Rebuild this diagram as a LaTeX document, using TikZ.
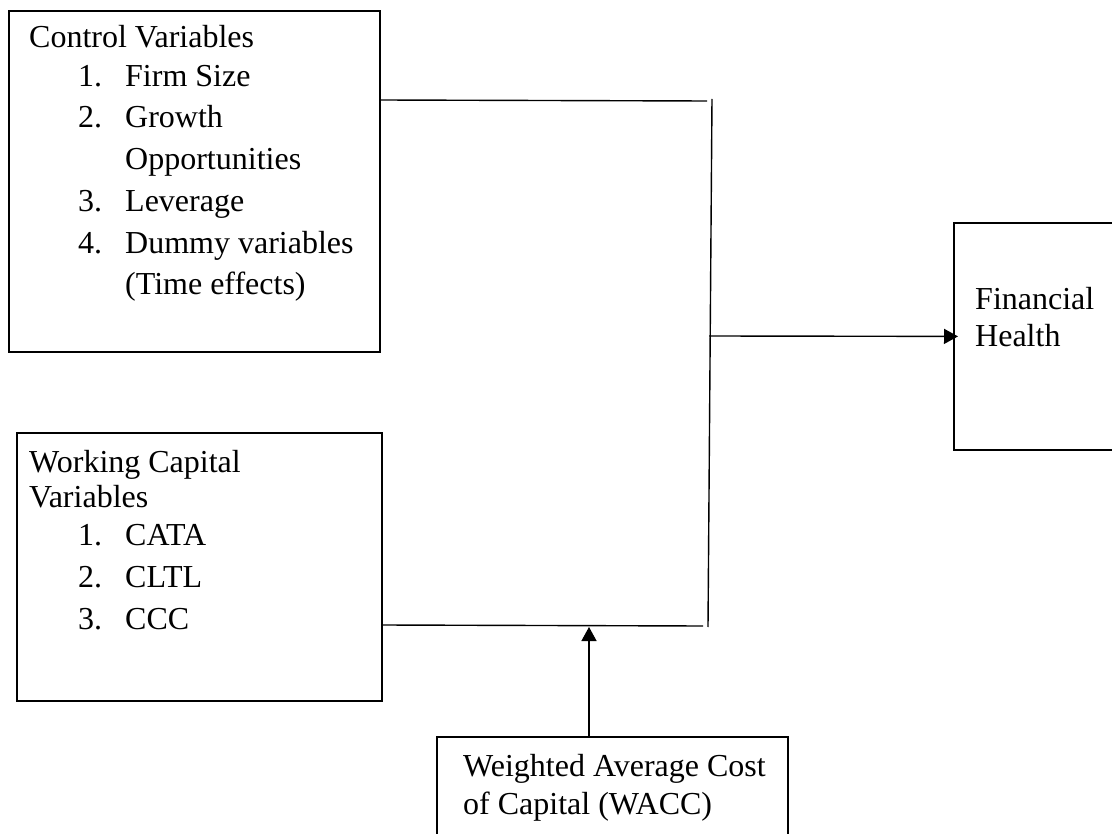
\documentclass[tikz,border=0pt]{standalone}
\usepackage{fontspec}
\setmainfont{Liberation Serif}
\usetikzlibrary{arrows.meta}
\newcommand\myfs{\fontsize{32}{38}\selectfont}
\begin{document}
\begin{tikzpicture}[x=1pt,y=-1pt,
  box/.style={draw, line width=1.8pt, rectangle, inner sep=0pt, anchor=north west},
  txt/.style={anchor=base west, inner sep=0pt, font=\myfs},
  conn/.style={line width=1.4pt},
  arr/.style={conn, -{Triangle[length=14pt,width=15pt]}}]
\fill[white] (0,0) rectangle (1112,834);
\useasboundingbox (0,0) rectangle (1112,834);
% boxes
\node[box, minimum width=371pt, minimum height=341pt] (ctrl) at (8,10) {};
\node[box, minimum width=365pt, minimum height=268pt] (wc) at (16,432) {};
\node[box, minimum width=220pt, minimum height=227pt] (fin) at (953,222) {};
\node[box, minimum width=351pt, minimum height=150pt] (wacc) at (436,736) {};
% texts: control
\node[txt] (t1) at (29,48) {Control Variables};
\node[txt] (n1) at (78,87) {1.};
\node[txt] (i1) at (125,87) {Firm Size};
\node[txt] (n2) at (78,128) {2.};
\node[txt] (i2) at (125,128) {Growth};
\node[txt] (i2b) at (125,170) {Opportunities};
\node[txt] (n3) at (78,212) {3.};
\node[txt] (i3) at (125,212) {Leverage};
\node[txt] (n4) at (78,254) {4.};
\node[txt] (i4) at (125,254) {Dummy variables};
\node[txt] (i4b) at (125,295) {(Time effects)};
% texts: working capital
\node[txt] (t2) at (29,472) {Working Capital};
\node[txt] (t2b) at (29,507) {Variables};
\node[txt] (m1) at (78,545) {1.};
\node[txt] (j1) at (125,545) {CATA};
\node[txt] (m2) at (78,587) {2.};
\node[txt] (j2) at (125,587) {CLTL};
\node[txt] (m3) at (78,629) {3.};
\node[txt] (j3) at (125,629) {CCC};
% texts: financial health
\node[txt] (f1) at (975,310) {Financial};
\node[txt] (f2) at (975,347) {Health};
% texts: wacc
\node[txt] (w1) at (463,776) {Weighted Average Cost};
\node[txt] (w2) at (463,814) {of Capital (WACC)};
% connector coordinates
\coordinate (ctop) at (380,100);
\coordinate (ctopend) at (707,101);
\coordinate (vtop) at (712,99);
\coordinate (vbot) at (708,627);
\coordinate (wcout) at (381,625);
\coordinate (wcend) at (703,626);
\coordinate (junc) at (709,336);
\coordinate (waccin) at (589,736);
\coordinate (waccend) at (589,627);
% connectors
\draw[conn] (ctop) -- (ctopend);
\draw[conn] (vtop) -- (vbot);
\draw[conn] (wcout) -- (wcend);
\draw[arr] (junc) -- ([xshift=5pt]fin.west);
\draw[arr] (waccin) -- (waccend);
\end{tikzpicture}
\end{document}
